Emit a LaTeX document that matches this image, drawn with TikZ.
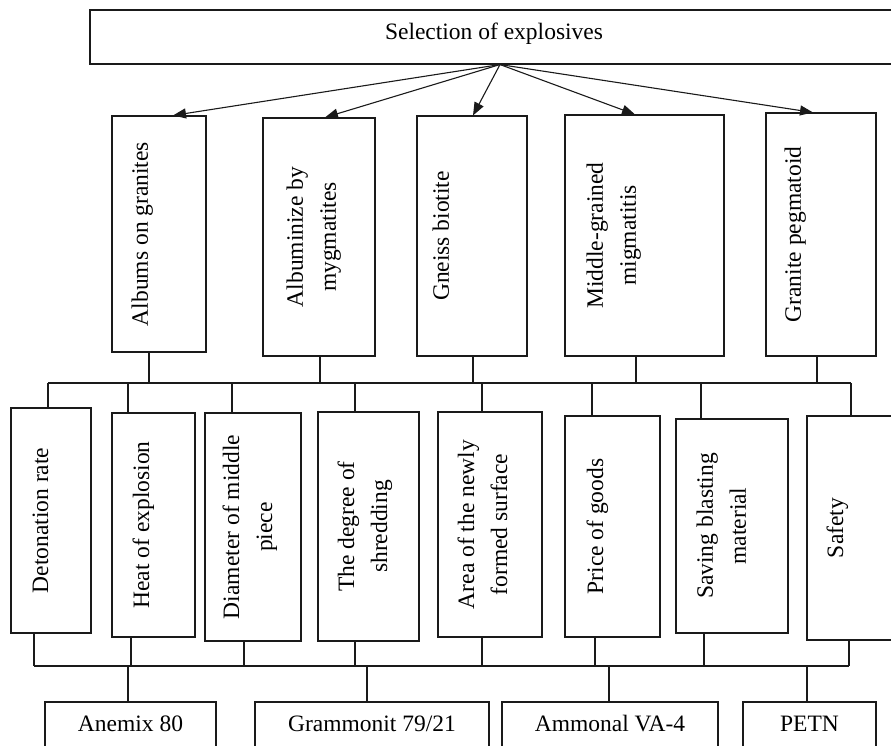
\documentclass[tikz,border=0pt]{standalone}
\usepackage{fontspec}
\setmainfont{Liberation Serif}
\usetikzlibrary{arrows.meta,positioning,calc}
\definecolor{Ink}{HTML}{1A1A1A}

\begin{document}
\begin{tikzpicture}[
  x=1pt, y=-1pt,
  every node/.style={font=\fontsize{23.5}{33}\selectfont},
  box/.style={draw=Ink, line width=1.1pt, inner sep=0pt},
  hbox/.style={box, minimum height=54, text depth=11pt},
  vtext/.style={rotate=90, anchor=north, align=center, inner sep=0pt},
  link/.style={draw=Ink, line width=1.1pt},
  arrow/.style={-{Triangle[length=13pt,width=10pt]}, line width=1.1pt, draw=Ink}
]
  \useasboundingbox (0,0) rectangle (891,745);
  \clip (0,0) rectangle (891,745);

  \node[hbox, minimum width=808] (sel) at (494,37) {Selection of explosives};

  \node[box, minimum width=94, minimum height=236] (albums) at (159,234) {};
  \node[box, minimum width=112, minimum height=238] (albumin) at (319,237) {};
  \node[box, minimum width=110, minimum height=240] (gneiss) at (472,236) {};
  \node[box, minimum width=159, minimum height=241] (middle) at (644.5,235.5) {};
  \node[box, minimum width=110, minimum height=243] (granite) at (821,234.5) {};
  \node[vtext] (albums-t) at ([xshift=20pt]albums.west) {Albums on granites};
  \node[vtext] (albumin-t) at ([xshift=24pt]albumin.west) {Albuminize by\\mygmatites};
  \node[vtext] (gneiss-t) at ([xshift=16pt]gneiss.west) {Gneiss biotite};
  \node[vtext] (middle-t) at ([xshift=22pt]middle.west) {Middle-grained\\migmatitis};
  \node[vtext] (granite-t) at ([xshift=19pt]granite.west) {Granite pegmatoid};

  \node[box, minimum width=80, minimum height=225] (deton) at (51,520.5) {};
  \node[box, minimum width=83, minimum height=224] (heat) at (153.5,525) {};
  \node[box, minimum width=96, minimum height=228] (diam) at (253,527) {};
  \node[box, minimum width=101, minimum height=229] (degree) at (368.5,526.5) {};
  \node[box, minimum width=104, minimum height=225] (area) at (490,524.5) {};
  \node[box, minimum width=95, minimum height=221] (price) at (612.5,526.5) {};
  \node[box, minimum width=112, minimum height=214] (saving) at (732,526) {};
  \node[box, minimum width=100, minimum height=224] (safety) at (857,528) {};
  \node[vtext] (deton-t) at ([xshift=22pt]deton.west) {Detonation rate};
  \node[vtext] (heat-t) at ([xshift=21pt]heat.west) {Heat of explosion};
  \node[vtext] (diam-t) at ([xshift=18pt]diam.west) {Diameter of middle\\piece};
  \node[vtext] (degree-t) at ([xshift=20pt]degree.west) {The degree of\\shredding};
  \node[vtext] (area-t) at ([xshift=20pt]area.west) {Area of the newly\\formed surface};
  \node[vtext] (price-t) at ([xshift=22pt]price.west) {Price of goods};
  \node[vtext] (saving-t) at ([xshift=21pt]saving.west) {Saving blasting\\material};
  \node[vtext] (safety-t) at ([xshift=20pt]safety.west) {Safety};

  \node[hbox, minimum width=171] (anemix) at (130.5,729) {Anemix 80};
  \node[hbox, minimum width=234] (gramm) at (372,729) {Grammonit 79/21};
  \node[hbox, minimum width=216] (ammonal) at (610,729) {Ammonal VA-4};
  \node[hbox, minimum width=133] (petn) at (809.5,729) {PETN};

  \draw[arrow] ([xshift=6pt]sel.south) -- ([xshift=14pt]albums.north);
  \draw[arrow] ([xshift=6pt]sel.south) -- ([xshift=6pt]albumin.north);
  \draw[arrow] ([xshift=6pt]sel.south) -- ([xshift=1pt]gneiss.north);
  \draw[arrow] ([xshift=6pt]sel.south) -- ([xshift=-9.5pt]middle.north);
  \draw[arrow] ([xshift=6pt]sel.south) -- ([xshift=-8pt]granite.north);

  \coordinate (upbus) at (48,383);
  \coordinate (upbus-e) at (851,383);
  \draw[link] (upbus) -- (upbus-e);
  \draw[link] ([xshift=-10pt]albums.south) -- ([xshift=-10pt]albums.south |- upbus);
  \draw[link] ([xshift=1pt]albumin.south) -- ([xshift=1pt]albumin.south |- upbus);
  \draw[link] ([xshift=1pt]gneiss.south) -- ([xshift=1pt]gneiss.south |- upbus);
  \draw[link] ([xshift=-8.5pt]middle.south) -- ([xshift=-8.5pt]middle.south |- upbus);
  \draw[link] ([xshift=-4pt]granite.south) -- ([xshift=-4pt]granite.south |- upbus);

  \draw[link] ([xshift=-3pt]deton.north) -- ([xshift=-3pt]deton.north |- upbus);
  \draw[link] ([xshift=-25.5pt]heat.north) -- ([xshift=-25.5pt]heat.north |- upbus);
  \draw[link] ([xshift=-21pt]diam.north) -- ([xshift=-21pt]diam.north |- upbus);
  \draw[link] ([xshift=-13.5pt]degree.north) -- ([xshift=-13.5pt]degree.north |- upbus);
  \draw[link] ([xshift=-8pt]area.north) -- ([xshift=-8pt]area.north |- upbus);
  \draw[link] ([xshift=-20.5pt]price.north) -- ([xshift=-20.5pt]price.north |- upbus);
  \draw[link] ([xshift=-31pt]saving.north) -- ([xshift=-31pt]saving.north |- upbus);
  \draw[link] ([xshift=-6pt]safety.north) -- ([xshift=-6pt]safety.north |- upbus);

  \coordinate (lowbus) at (34,666);
  \coordinate (lowbus-e) at (849,666);
  \draw[link] (lowbus) -- (lowbus-e);
  \draw[link] ([xshift=-17pt]deton.south) -- ([xshift=-17pt]deton.south |- lowbus);
  \draw[link] ([xshift=-22.5pt]heat.south) -- ([xshift=-22.5pt]heat.south |- lowbus);
  \draw[link] ([xshift=-9pt]diam.south) -- ([xshift=-9pt]diam.south |- lowbus);
  \draw[link] ([xshift=-13.5pt]degree.south) -- ([xshift=-13.5pt]degree.south |- lowbus);
  \draw[link] ([xshift=-8pt]area.south) -- ([xshift=-8pt]area.south |- lowbus);
  \draw[link] ([xshift=-17.5pt]price.south) -- ([xshift=-17.5pt]price.south |- lowbus);
  \draw[link] ([xshift=-28pt]saving.south) -- ([xshift=-28pt]saving.south |- lowbus);
  \draw[link] ([xshift=-8pt]safety.south) -- ([xshift=-8pt]safety.south |- lowbus);

  \draw[link] ([xshift=-2.5pt]anemix.north) -- ([xshift=-2.5pt]anemix.north |- lowbus);
  \draw[link] ([xshift=-5pt]gramm.north) -- ([xshift=-5pt]gramm.north |- lowbus);
  \draw[link] ([xshift=-1pt]ammonal.north) -- ([xshift=-1pt]ammonal.north |- lowbus);
  \draw[link] ([xshift=-2.5pt]petn.north) -- ([xshift=-2.5pt]petn.north |- lowbus);
\end{tikzpicture}
\end{document}
